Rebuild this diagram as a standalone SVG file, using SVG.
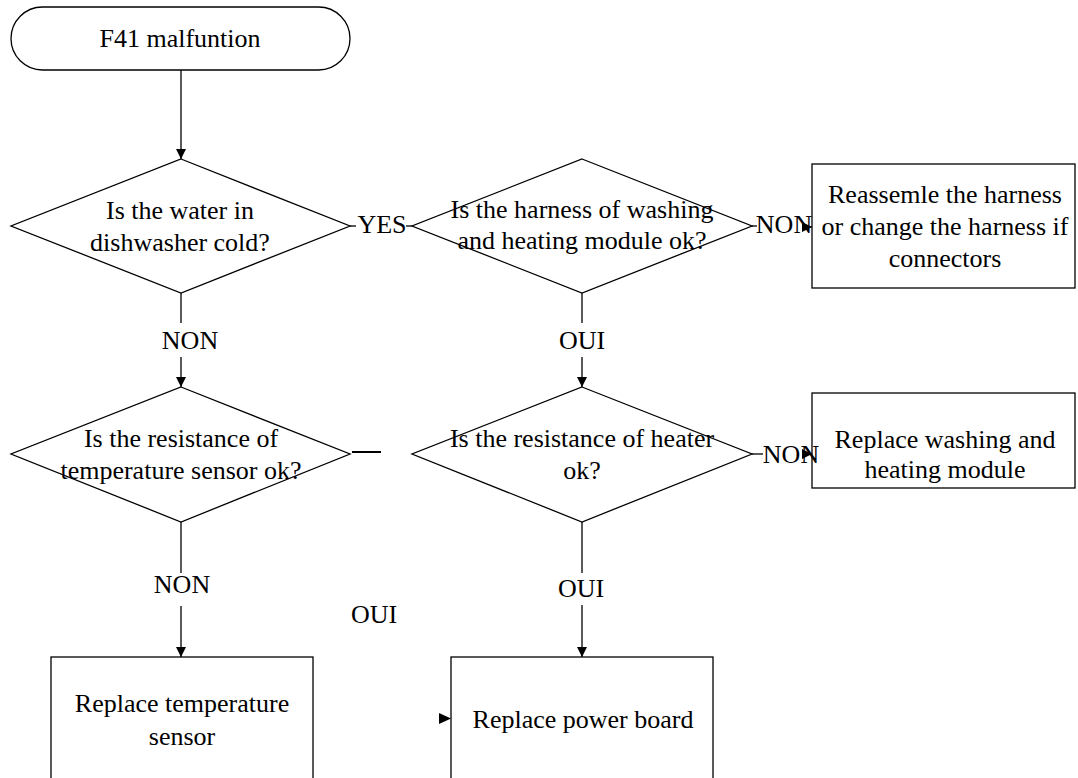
<svg xmlns="http://www.w3.org/2000/svg" width="1078" height="778" viewBox="0 0 1078 778">
<style>
.shape{fill:#fff;stroke:#000;stroke-width:1.3}
.c{stroke:#000;stroke-width:1.3;fill:none}
</style>
<defs>
<marker id="ah" markerUnits="userSpaceOnUse" markerWidth="10" markerHeight="10" refX="10" refY="5" orient="auto">
<path d="M0,0 L10,5 L0,10 z" fill="#000"/>
</marker>
</defs>
<rect width="1078" height="778" fill="#fff"/>
<g font-family="Liberation Serif, Times New Roman, DejaVu Serif, serif" font-size="26" text-anchor="middle" fill="#000">
<g id="start">
<rect class="shape" x="11" y="7" width="339" height="63" rx="31.5"/>
<text x="180" y="47">F41 malfuntion</text>
</g>
<g id="q-water">
<polygon class="shape" points="181,159 350,226 181,293 11,226"/>
<text x="180" y="219">Is the water in</text>
<text x="180" y="251">dishwasher cold?</text>
</g>
<g id="q-harness">
<polygon class="shape" points="582,159 752,226 582,293 412,226"/>
<text x="582" y="218">Is the harness of washing</text>
<text x="582" y="249">and heating module ok?</text>
</g>
<g id="a-harness">
<rect class="shape" x="812" y="164" width="263" height="124"/>
<text x="945" y="203">Reassemle the harness</text>
<text x="945" y="235">or change the harness if</text>
<text x="945" y="267">connectors</text>
</g>
<g id="q-sensor">
<polygon class="shape" points="181,387 350,454 181,522 11,454"/>
<text x="181" y="447">Is the resistance of</text>
<text x="181" y="479">temperature sensor ok?</text>
</g>
<g id="q-heater">
<polygon class="shape" points="582,387 752,454 582,522 412,454"/>
<text x="582" y="447">Is the resistance of heater</text>
<text x="582" y="479">ok?</text>
</g>
<g id="a-module">
<rect class="shape" x="812" y="393" width="263" height="95"/>
<text x="945" y="448">Replace washing and</text>
<text x="945" y="478">heating module</text>
</g>
<g id="a-sensor">
<rect class="shape" x="51" y="657" width="262" height="140"/>
<text x="182" y="712">Replace temperature</text>
<text x="182" y="745">sensor</text>
</g>
<g id="a-board">
<rect class="shape" x="451" y="657" width="262" height="140"/>
<text x="583" y="728">Replace power board</text>
</g>
<g id="labels">
<text x="382" y="233">YES</text>
<text x="784" y="233">NON</text>
<text x="190" y="349">NON</text>
<text x="582" y="349">OUI</text>
<text x="182" y="593">NON</text>
<text x="581" y="597">OUI</text>
<text x="791" y="463">NON</text>
<text x="374" y="623">OUI</text>
</g>
</g>
<g id="connectors">
<line class="c" x1="181" y1="70" x2="181" y2="159" marker-end="url(#ah)"/>
<line class="c" x1="350" y1="226" x2="356" y2="226"/>
<line class="c" x1="406" y1="226" x2="412" y2="226"/>
<line class="c" x1="752" y1="226" x2="757" y2="226"/>
<line class="c" x1="802" y1="227" x2="812" y2="227" marker-end="url(#ah)"/>
<line class="c" x1="181" y1="293" x2="181" y2="323"/>
<line class="c" x1="181" y1="357" x2="181" y2="387" marker-end="url(#ah)"/>
<line class="c" x1="582" y1="293" x2="582" y2="323"/>
<line class="c" x1="582" y1="357" x2="582" y2="387" marker-end="url(#ah)"/>
<line class="c" x1="752" y1="454" x2="763" y2="454"/>
<line class="c" x1="802" y1="454" x2="812" y2="454" marker-end="url(#ah)"/>
<line class="c" x1="352" y1="452" x2="381" y2="452" style="stroke-width:2"/>
<line class="c" x1="181" y1="522" x2="181" y2="573"/>
<line class="c" x1="181" y1="606" x2="181" y2="657" marker-end="url(#ah)"/>
<line class="c" x1="582" y1="522" x2="582" y2="573"/>
<line class="c" x1="582" y1="605" x2="582" y2="657" marker-end="url(#ah)"/>
<polygon points="439,713 451,718.5 439,724" fill="#000"/>
</g>
</svg>
